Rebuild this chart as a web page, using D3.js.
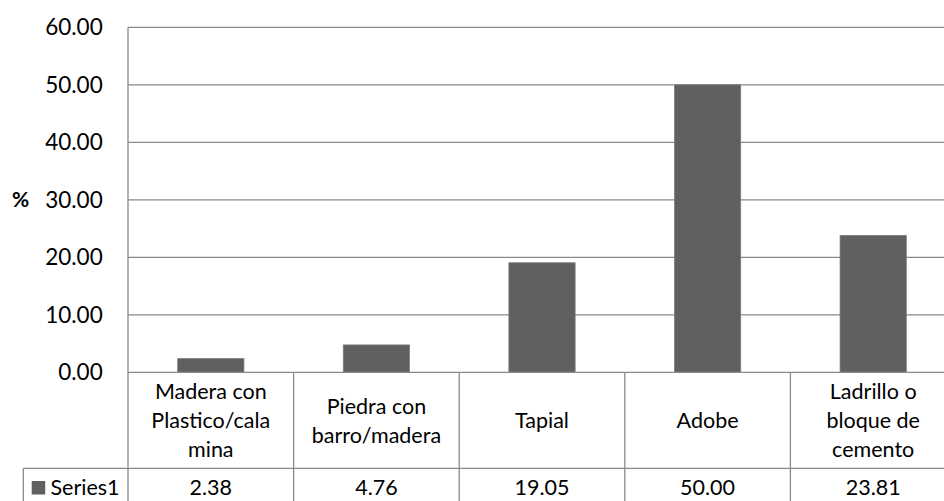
<!DOCTYPE html>
<html>
<head>
<meta charset="utf-8">
<script src="https://cdn.jsdelivr.net/npm/d3@7"></script>
<style>
  html, body { margin: 0; padding: 0; background: #fff; }
  svg { display: block; }
</style>
</head>
<body>
<svg id="chart" width="944" height="501"></svg>
<script>
// Wall material categories (wrapped label lines) and the share of homes in each
const categoryLines = [
  ["Madera con", "Plastico/cala", "mina"],
  ["Piedra con", "barro/madera"],
  ["Tapial"],
  ["Adobe"],
  ["Ladrillo o", "bloque de", "cemento"]
];
const categories = categoryLines.map(l => l.join(" "));
const seriesName = "Series1";
const values = [2.38, 4.76, 19.05, 50.00, 23.81];
const yTicks = [0, 10, 20, 30, 40, 50, 60];
const yTitle = "%";

const svg = d3.select("#chart");

const plot = { left: 128, right: 956, top: 27.3, bottom: 372.3 };
const tableRow1Bottom = 468.3;
const tableRow2Bottom = 520;
const tableLeft = 23.3;
const gridColor = "#8a8a8a";
const lineH = 29;
const textFont = "Lato, 'Open Sans', sans-serif";
const textSize = 21.5;

const y = d3.scaleLinear().domain([0, 60]).range([plot.bottom, plot.top]);
const xBar = d3.scaleBand().domain(categories).range([plot.left, plot.right])
  .paddingInner(0.6).paddingOuter(0.3);
const xCol = d3.scaleBand().domain(categories).range([plot.left, plot.right]).padding(0);

// horizontal gridlines
svg.append("g").selectAll("line").data(yTicks.filter(d => d > 0)).join("line")
  .attr("x1", plot.left).attr("x2", plot.right)
  .attr("y1", d => y(d)).attr("y2", d => y(d))
  .attr("stroke", gridColor).attr("stroke-width", 1.3);

// y axis labels
const yAxis = d3.axisLeft(y).tickValues(yTicks).tickFormat(d3.format(".2f")).tickSize(0).tickPadding(25.3);
const gy = svg.append("g").attr("transform", `translate(${plot.left},0)`).call(yAxis);
gy.select(".domain").remove();
gy.selectAll("text")
  .attr("font-family", textFont)
  .attr("font-size", 22.5).attr("fill", "#000");

svg.append("text")
  .attr("x", 12).attr("y", y(30)).attr("dy", "0.36em")
  .attr("font-family", textFont).attr("font-weight", "bold")
  .attr("font-size", 21).attr("fill", "#000")
  .text(yTitle);

// bars
svg.append("g").selectAll("rect").data(values).join("rect")
  .attr("x", (d, i) => xBar(categories[i]))
  .attr("width", xBar.bandwidth())
  .attr("y", d => y(d))
  .attr("height", d => y(0) - y(d))
  .attr("fill", "#606060")
  .attr("stroke", "#7c7c7c").attr("stroke-width", 0.8);

// data table grid
const table = svg.append("g").attr("stroke", gridColor).attr("stroke-width", 1.3);
table.append("line").attr("x1", plot.left).attr("x2", plot.right)
  .attr("y1", plot.bottom).attr("y2", plot.bottom);
table.append("line").attr("x1", tableLeft).attr("x2", plot.right)
  .attr("y1", tableRow1Bottom).attr("y2", tableRow1Bottom);
table.append("line").attr("x1", tableLeft).attr("x2", tableLeft)
  .attr("y1", tableRow1Bottom).attr("y2", tableRow2Bottom);
table.append("line").attr("x1", plot.left).attr("x2", plot.left)
  .attr("y1", plot.top).attr("y2", tableRow2Bottom);
table.selectAll(".col").data(categories).join("line").attr("class", "col")
  .attr("x1", d => xCol(d) + xCol.bandwidth()).attr("x2", d => xCol(d) + xCol.bandwidth())
  .attr("y1", plot.bottom).attr("y2", tableRow2Bottom);

const rowMid = 428;

// category labels
const cat = svg.append("g");
categoryLines.forEach((lines, i) => {
  const cx = xCol(categories[i]) + xCol.bandwidth() / 2;
  cat.append("g").selectAll("text").data(lines).join("text")
    .attr("x", cx)
    .attr("y", (d, j) => rowMid + (j - (lines.length - 1) / 2) * lineH)
    .attr("text-anchor", "middle")
    .attr("font-family", textFont).attr("font-size", textSize).attr("fill", "#000")
    .text(d => d);
});

// values row
svg.append("g").selectAll("text").data(values).join("text")
  .attr("x", (d, i) => xCol(categories[i]) + xCol.bandwidth() / 2)
  .attr("y", 495)
  .attr("text-anchor", "middle")
  .attr("font-family", textFont).attr("font-size", textSize).attr("fill", "#000")
  .text(d => d3.format(".2f")(d));

// legend key and series name
svg.append("rect").attr("x", 31.7).attr("y", 481).attr("width", 13.5).attr("height", 13.5)
  .attr("fill", "#606060");
svg.append("text").attr("x", 50.5).attr("y", 495)
  .attr("font-family", textFont).attr("font-size", textSize).attr("fill", "#000")
  .text(seriesName);
</script>
</body>
</html>
